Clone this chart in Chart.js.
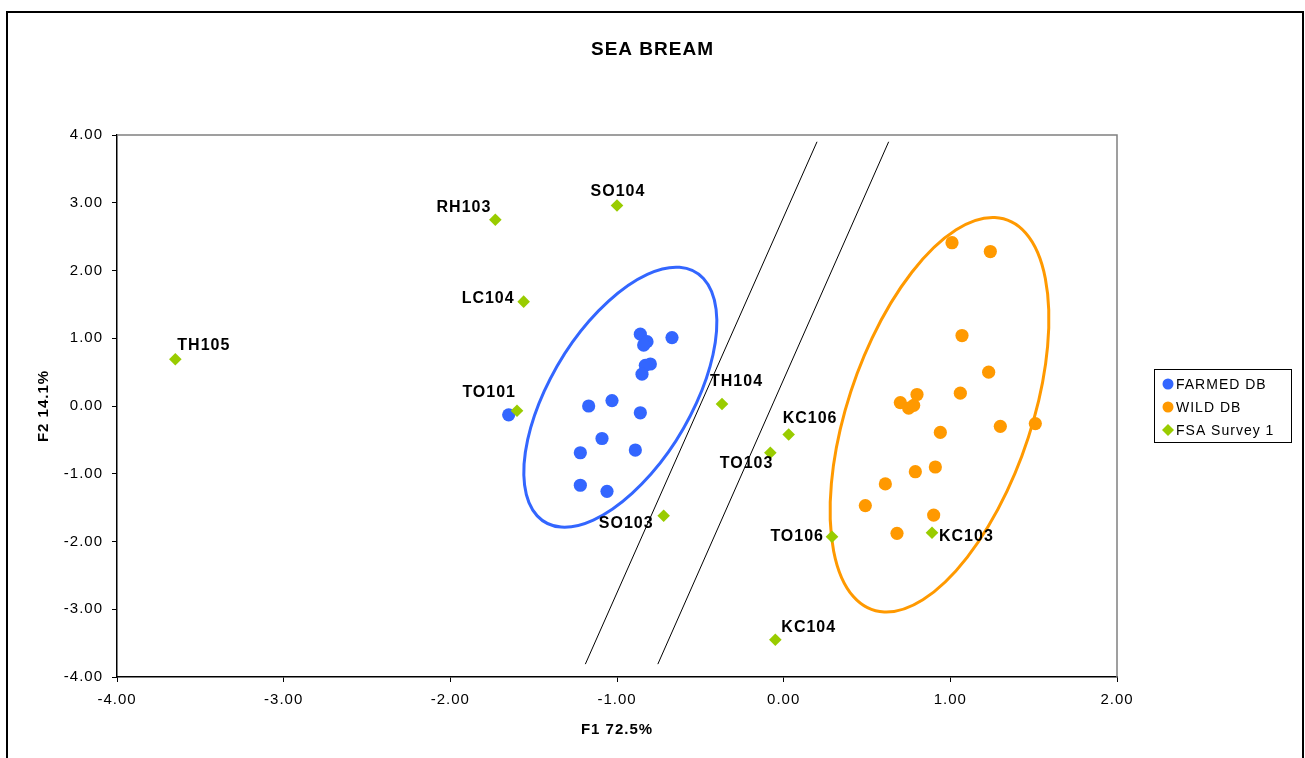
<!DOCTYPE html>
<html>
<head>
<meta charset="utf-8">
<title>Sea Bream</title>
<script src="https://cdn.jsdelivr.net/npm/chart.js@4.4.1/dist/chart.umd.min.js"></script>
<style>
    body { margin: 0; background: #fff; }
    canvas { display: block; }
</style>
</head>
<body>
<canvas id="chart" width="1305" height="758"></canvas>
<script>
const farmedX = [-0.86, -0.82, -0.84, -0.67, -0.80, -0.83, -0.85, -1.17, -1.03, -0.86, -1.09, -1.22, -0.89, -1.22, -1.06, -1.65];
const farmedY = [1.06, 0.95, 0.90, 1.01, 0.62, 0.60, 0.47, 0.00, 0.08, -0.10, -0.48, -0.69, -0.65, -1.17, -1.26, -0.13];

const wildX = [1.01, 1.24, 1.07, 1.23, 1.06, 0.80, 0.70, 0.75, 0.78, 1.30, 1.51, 0.94, 0.91, 0.79, 0.61, 0.49, 0.90, 0.68];
const wildY = [2.41, 2.28, 1.04, 0.50, 0.19, 0.17, 0.05, -0.03, 0.01, -0.30, -0.26, -0.39, -0.90, -0.97, -1.15, -1.47, -1.61, -1.88];

const surveyNames = ['TH105', 'RH103', 'SO104', 'LC104', 'TO101', 'TH104', 'KC106', 'TO103', 'SO103', 'TO106', 'KC103', 'KC104'];
const surveyX = [-3.65, -1.73, -1.00, -1.56, -1.60, -0.37, 0.03, -0.08, -0.72, 0.29, 0.89, -0.05];
const surveyY = [0.69, 2.75, 2.96, 1.54, -0.07, 0.03, -0.42, -0.69, -1.62, -1.93, -1.87, -3.45];

// two separating lines, [bottom, top] ends
const lineAX = [-1.19, 0.20];
const lineAY = [-3.81, 3.90];
const lineBX = [-0.755, 0.63];
const lineBY = [-3.81, 3.90];

// group ellipses: centre, semi-axes and tilt in data units
const farmedEllipse = [-0.98, 0.13, 1.95, 0.465, 79.5];
const wildEllipse = [0.935, -0.13, 2.93, 0.57, 83.5];

const xTicks = [-4, -3, -2, -1, 0, 1, 2];
const yTicks = [-4, -3, -2, -1, 0, 1, 2, 3, 4];

const BLUE = '#3366FF';
const ORANGE = '#FF9900';
const GREEN = '#99CC00';
const FONT = '"Liberation Sans", Arial, sans-serif';

// where each survey label sits relative to its marker (px)
const labelPlace = {
    TH105: [2, -14, 'left'],
    RH103: [-4, -12, 'right'],
    SO104: [1, -14, 'center'],
    LC104: [-9, -3, 'right'],
    TO101: [-1, -18, 'right'],
    TH104: [-12, -22, 'left'],
    KC106: [-6, -16, 'left'],
    TO103: [3, 11, 'right'],
    SO103: [-10, 8, 'right'],
    TO106: [-8, 0, 'right'],
    KC103: [7, 4, 'left'],
    KC104: [6, -12, 'left']
};

const toPoints = (xs, ys) => xs.map((x, i) => ({ x: x, y: ys[i] }));

function drawEllipse(chart, e, color) {
    const { ctx, scales } = chart;
    const sx = scales.x.getPixelForValue(1) - scales.x.getPixelForValue(0);
    const sy = scales.y.getPixelForValue(0) - scales.y.getPixelForValue(1);
    ctx.save();
    ctx.translate(scales.x.getPixelForValue(e[0]), scales.y.getPixelForValue(e[1]));
    ctx.scale(sx, -sy);
    ctx.beginPath();
    ctx.ellipse(0, 0, e[2], e[3], e[4] * Math.PI / 180, 0, Math.PI * 2);
    ctx.restore();
    ctx.save();
    ctx.strokeStyle = color;
    ctx.lineWidth = 3;
    ctx.stroke();
    ctx.restore();
}

const extrasPlugin = {
    id: 'extras',
    beforeDraw(chart) {
        const ctx = chart.ctx;
        ctx.letterSpacing = '1px';
        ctx.save();
        ctx.fillStyle = '#fff';
        ctx.fillRect(0, 0, chart.width, chart.height);
        ctx.strokeStyle = '#000';
        ctx.lineWidth = 2;
        ctx.strokeRect(7, 12, 1296, 800);
        ctx.restore();
    },
    beforeDatasetsDraw(chart) {
        const { ctx, chartArea } = chart;
        ctx.save();
        ctx.strokeStyle = '#808080';
        ctx.lineWidth = 1.5;
        ctx.beginPath();
        ctx.moveTo(chartArea.left, chartArea.top);
        ctx.lineTo(chartArea.right, chartArea.top);
        ctx.lineTo(chartArea.right, chartArea.bottom);
        ctx.stroke();
        ctx.restore();
        drawEllipse(chart, farmedEllipse, BLUE);
        drawEllipse(chart, wildEllipse, ORANGE);
    },
    afterDatasetsDraw(chart) {
        const { ctx, scales } = chart;
        ctx.save();
        ctx.font = 'bold 16px ' + FONT;
        ctx.fillStyle = '#000';
        ctx.textBaseline = 'middle';
        surveyNames.forEach((name, i) => {
            const p = labelPlace[name];
            ctx.textAlign = p[2];
            ctx.fillText(name, scales.x.getPixelForValue(surveyX[i]) + p[0], scales.y.getPixelForValue(surveyY[i]) + p[1]);
        });

        // legend
        ctx.strokeStyle = '#000';
        ctx.lineWidth = 1;
        ctx.strokeRect(1154.5, 369.5, 137, 73);
        ctx.font = '14px ' + FONT;
        ctx.textAlign = 'left';
        const rows = [['FARMED DB', BLUE, 'circle', 384], ['WILD DB', ORANGE, 'circle', 407], ['FSA Survey 1', GREEN, 'diamond', 430]];
        rows.forEach(r => {
            ctx.fillStyle = r[1];
            ctx.beginPath();
            if (r[2] === 'circle') {
                ctx.arc(1168, r[3], 5.5, 0, Math.PI * 2);
            } else {
                ctx.moveTo(1168, r[3] - 6);
                ctx.lineTo(1174, r[3]);
                ctx.lineTo(1168, r[3] + 6);
                ctx.lineTo(1162, r[3]);
                ctx.closePath();
            }
            ctx.fill();
            ctx.fillStyle = '#000';
            ctx.fillText(r[0], 1176, r[3] + 1);
        });
        ctx.restore();
    }
};

const ctx = document.getElementById('chart').getContext('2d');
new Chart(ctx, {
    type: 'scatter',
    data: {
        datasets: [
            {
                label: 'FSA Survey 1',
                data: toPoints(surveyX, surveyY),
                backgroundColor: GREEN,
                pointStyle: 'rectRot',
                pointRadius: 6.3,
                pointBorderWidth: 0,
                order: 0
            },
            {
                label: 'FARMED DB',
                data: toPoints(farmedX, farmedY),
                backgroundColor: BLUE,
                pointRadius: 6.6,
                pointBorderWidth: 0,
                order: 1
            },
            {
                label: 'WILD DB',
                data: toPoints(wildX, wildY),
                backgroundColor: ORANGE,
                pointRadius: 6.6,
                pointBorderWidth: 0,
                order: 2
            },
            {
                data: toPoints(lineAX, lineAY),
                showLine: true,
                borderColor: '#000',
                borderWidth: 1,
                pointRadius: 0,
                order: 3
            },
            {
                data: toPoints(lineBX, lineBY),
                showLine: true,
                borderColor: '#000',
                borderWidth: 1,
                pointRadius: 0,
                order: 3
            }
        ]
    },
    options: {
        responsive: false,
        animation: false,
        layout: { padding: 0 },
        plugins: {
            legend: { display: false },
            tooltip: { enabled: false },
            title: {
                display: true,
                text: 'SEA BREAM',
                color: '#000',
                font: { family: FONT, size: 19, weight: 'bold' },
                padding: { top: 38.6, bottom: 73.6 }
            }
        },
        scales: {
            x: {
                type: 'linear',
                position: 'bottom',
                min: -4,
                max: 2,
                afterFit: s => { s.height = 81; },
                afterBuildTicks: s => { s.ticks = xTicks.map(v => ({ value: v })); },
                ticks: {
                    color: '#000',
                    padding: 9,
                    font: { family: FONT, size: 15 },
                    callback: v => v.toFixed(2)
                },
                grid: { drawOnChartArea: false, drawTicks: true, tickLength: 5, color: '#000' },
                border: { display: true, color: '#000', width: 1.5 },
                title: {
                    display: true,
                    text: 'F1 72.5%',
                    color: '#000',
                    font: { family: FONT, size: 15, weight: 'bold' },
                    padding: { top: 0, bottom: 19 }
                }
            },
            y: {
                type: 'linear',
                position: 'left',
                min: -4,
                max: 4,
                afterFit: s => { s.width = 117; },
                afterBuildTicks: s => { s.ticks = yTicks.map(v => ({ value: v })); },
                ticks: {
                    color: '#000',
                    padding: 9,
                    font: { family: FONT, size: 15 },
                    callback: v => v.toFixed(2)
                },
                grid: { drawOnChartArea: false, drawTicks: true, tickLength: 5, color: '#000' },
                border: { display: true, color: '#000', width: 1.5 },
                title: {
                    display: true,
                    text: 'F2 14.1%',
                    color: '#000',
                    font: { family: FONT, size: 15, weight: 'bold' },
                    padding: { top: 35, bottom: 0 }
                }
            },
            // empty right-hand axis keeps room for the legend
            side: {
                type: 'linear',
                position: 'right',
                display: true,
                afterFit: s => { s.width = 188; },
                ticks: { display: false },
                grid: { display: false },
                border: { display: false },
                title: { display: false }
            }
        }
    },
    plugins: [extrasPlugin]
});
</script>
</body>
</html>
